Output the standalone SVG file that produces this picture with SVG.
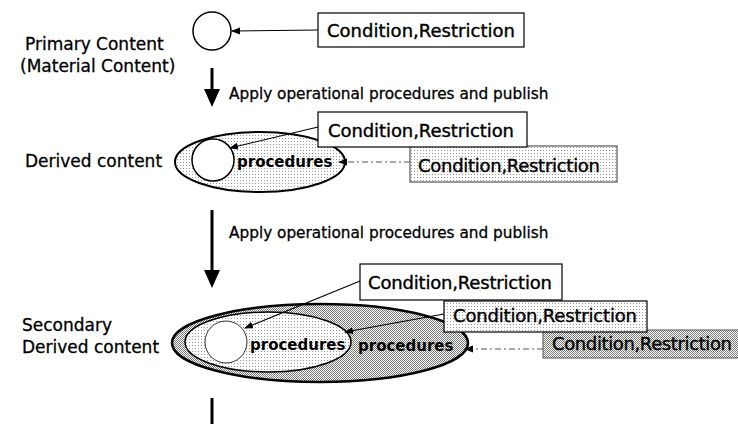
<svg xmlns="http://www.w3.org/2000/svg" width="738" height="424" viewBox="0 0 738 424">
  <style>
    .lbl { font-family: "DejaVu Sans", "Liberation Sans", sans-serif; font-size: 17px; fill: #000; stroke: #000; stroke-width: 0.3; }
    .apply { font-family: "DejaVu Sans", "Liberation Sans", sans-serif; font-size: 15.3px; fill: #000; stroke: #000; stroke-width: 0.3; }
    .box-text { font-family: "DejaVu Sans", "Liberation Sans", sans-serif; font-size: 18px; fill: #000; stroke: #000; stroke-width: 0.4; }
    .proc { font-family: "DejaVu Sans", "Liberation Sans", sans-serif; font-size: 15px; font-weight: bold; fill: #000; }
    .box { stroke: #000; stroke-width: 1.2; }
    .link { stroke: #000; stroke-width: 1.1; fill: none; marker-end: url(#tip); }
    .link-dash { stroke: #555; stroke-width: 1; fill: none; stroke-dasharray: 6 3 2 3; marker-end: url(#tip); }
    .flow { stroke: #000; stroke-width: 3; fill: none; }
  </style>
  <defs>
    <!-- sparse halftone -->
    <pattern id="dotsLight" width="3" height="3" patternUnits="userSpaceOnUse">
      <rect width="3" height="3" fill="#fff"/>
      <rect width="1" height="1" fill="#9a9a9a"/>
    </pattern>
    <!-- dense halftone -->
    <pattern id="dotsDark" width="2" height="2" patternUnits="userSpaceOnUse">
      <rect width="2" height="2" fill="#fff"/>
      <rect width="1" height="1" fill="#7a7a7a"/>
      <rect x="1" y="1" width="1" height="1" fill="#7a7a7a"/>
    </pattern>
    <marker id="tip" markerWidth="9" markerHeight="8" refX="8" refY="4" orient="auto" markerUnits="userSpaceOnUse">
      <path d="M0,0.5 L9,4 L0,7.5 Z" fill="#000"/>
    </marker>
    <path id="bigHead" d="M-8,0 L8,0 L0,18 Z" fill="#000"/>
  </defs>

  <!-- stage 1: primary content -->
  <g id="primary">
    <circle cx="212" cy="31" r="19" fill="#fff" stroke="#000" stroke-width="1.5"/>
    <text class="lbl" x="25" y="50">Primary Content</text>
    <text class="lbl" x="20" y="72">(Material Content)</text>
  </g>
  <g id="cond1">
    <rect class="box" x="318" y="13" width="206" height="34" fill="#fff"/>
    <text class="box-text" x="327" y="37" textLength="188">Condition,Restriction</text>
  </g>

  <!-- stage 2: derived content -->
  <g id="derived">
    <ellipse cx="260" cy="162" rx="85" ry="30" fill="url(#dotsLight)" stroke="#000" stroke-width="2"/>
    <circle cx="213" cy="160" r="21" fill="#fff" stroke="#000" stroke-width="1.5"/>
    <text class="proc" x="237" y="167">procedures</text>
    <text class="lbl" x="25" y="167">Derived content</text>
  </g>
  <g id="cond2b">
    <rect x="410" y="146" width="207" height="36" fill="url(#dotsLight)" stroke="#333" stroke-width="1"/>
    <text class="box-text" x="418" y="172" textLength="182">Condition,Restriction</text>
  </g>
  <g id="cond2a">
    <rect class="box" x="318" y="112" width="209" height="35" fill="#fff"/>
    <text class="box-text" x="328" y="137" textLength="186">Condition,Restriction</text>
  </g>

  <!-- stage 3: secondary derived content -->
  <g id="secondary">
    <ellipse cx="320" cy="343" rx="148" ry="39" fill="url(#dotsDark)" stroke="#000" stroke-width="2.5"/>
    <ellipse cx="268" cy="342" rx="83" ry="30" fill="url(#dotsLight)" stroke="#000" stroke-width="1.5"/>
    <circle cx="226" cy="342" r="21" fill="#fff" stroke="#333" stroke-width="1"/>
    <text class="proc" x="250" y="350">procedures</text>
    <text class="proc" x="358" y="351">procedures</text>
    <text class="lbl" x="22" y="331">Secondary</text>
    <text class="lbl" x="22" y="353">Derived content</text>
  </g>
  <g id="cond3c">
    <rect x="543" y="330" width="200" height="28" fill="url(#dotsDark)" stroke="#555" stroke-width="1"/>
    <text class="box-text" x="552" y="350" textLength="180">Condition,Restriction</text>
  </g>
  <g id="cond3b">
    <rect class="box" x="444" y="301" width="203" height="31" fill="url(#dotsLight)"/>
    <text class="box-text" x="453" y="322" textLength="184">Condition,Restriction</text>
  </g>
  <g id="cond3a">
    <rect class="box" x="360" y="264" width="202" height="36" fill="#fff"/>
    <text class="box-text" x="368" y="289" textLength="184">Condition,Restriction</text>
  </g>

  <!-- connectors -->
  <g id="connectors">
    <line class="link" x1="318" y1="30" x2="232" y2="31"/>
    <line class="link" x1="318" y1="127" x2="230" y2="148"/>
    <line class="link-dash" x1="410" y1="162" x2="339" y2="162"/>
    <line class="link" x1="360" y1="281" x2="245" y2="328"/>
    <line class="link" x1="444" y1="314" x2="345" y2="332"/>
    <line class="link-dash" x1="543" y1="349" x2="465" y2="349"/>

    <line class="flow" x1="212" y1="68" x2="212" y2="92"/>
    <use href="#bigHead" x="212" y="89"/>
    <text class="apply" x="229" y="99">Apply operational procedures and publish</text>

    <line class="flow" x1="212" y1="210" x2="212" y2="273"/>
    <use href="#bigHead" x="212" y="270"/>
    <text class="apply" x="229" y="238">Apply operational procedures and publish</text>

    <line class="flow" x1="212" y1="398" x2="212" y2="424"/>
  </g>
</svg>
